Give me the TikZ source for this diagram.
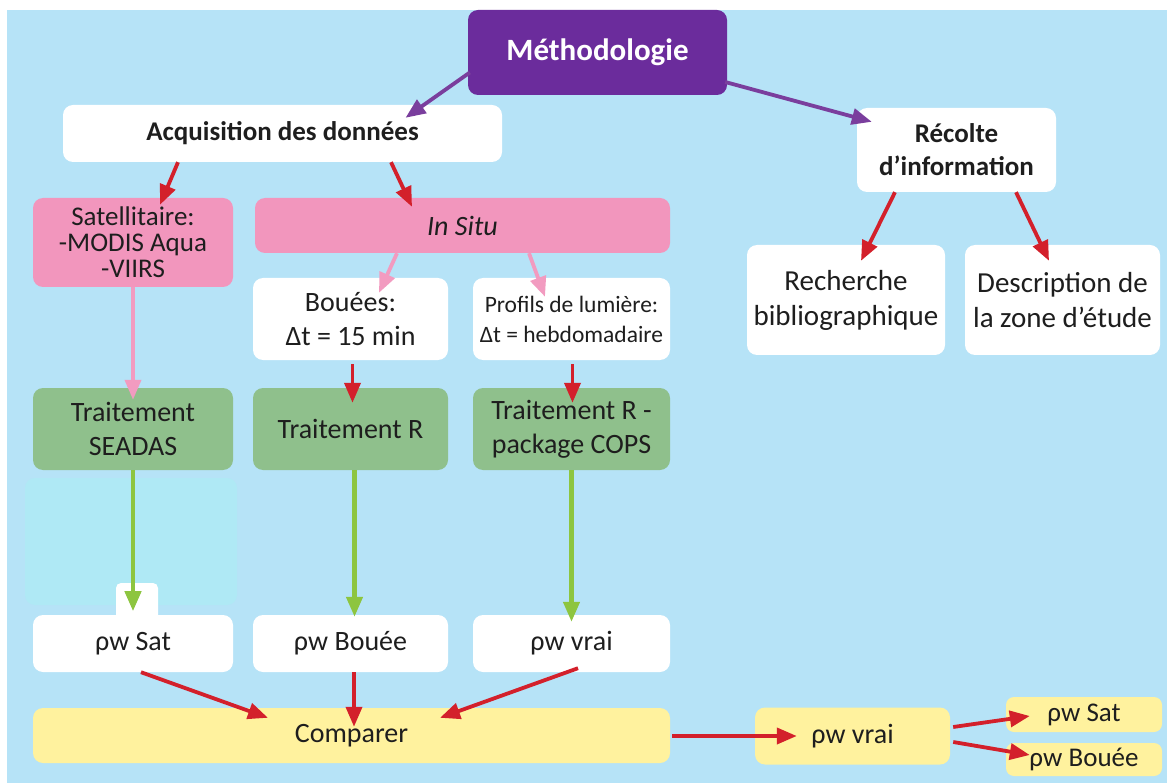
\documentclass[tikz,border=0pt]{standalone}
\usepackage{fontspec}
\setmainfont{Carlito}
\usetikzlibrary{arrows.meta,calc}
\definecolor{bgblue}{HTML}{B6E3F7}
\definecolor{purpbox}{HTML}{6B2C9C}
\definecolor{pinkbox}{HTML}{F296BD}
\definecolor{greenbox}{HTML}{8FC08C}
\definecolor{yellowbox}{HTML}{FFF29E}
\definecolor{cyanpanel}{HTML}{AFE9F5}
\definecolor{arrred}{HTML}{D3202B}
\definecolor{arrpink}{HTML}{F29BC0}
\definecolor{arrgreen}{HTML}{8DC540}
\definecolor{arrpurple}{HTML}{7A3E9D}
\definecolor{txt}{HTML}{1E1E1E}
\begin{document}
\begin{tikzpicture}[x=1pt,y=1pt,
  box/.style={rounded corners=10pt, inner sep=0pt, align=center, text=txt,
    font=\fontsize{28}{34}\selectfont},
  whitebox/.style={box, fill=white},
  pinkb/.style={box, fill=pinkbox},
  greenb/.style={box, fill=greenbox},
  yellowb/.style={box, fill=yellowbox},
  arr/.style={-{Triangle[length=20pt,width=16pt]}, line width=3.8pt},
  redarr/.style={arr, draw=arrred, color=arrred},
  pinkarr/.style={arr, draw=arrpink, color=arrpink},
  greenarr/.style={arr, draw=arrgreen, color=arrgreen, line width=4.3pt},
  purparr/.style={arr, draw=arrpurple, color=arrpurple}]
\useasboundingbox (0,0) rectangle (1172,-783);
\fill[white] (0,0) rectangle (1172,-783);
\fill[bgblue] (7,-10) rectangle (1167,-783);
% light cyan panel and tab
\node[box, fill=cyanpanel, minimum width=212pt, minimum height=127pt] (panel) at (131,-541.5) {};
\node[box, fill=white, rounded corners=5pt, minimum width=42pt, minimum height=40pt] (tab) at (137,-603) {};
% boxes
\node[box, fill=purpbox, text=white, minimum width=259pt, minimum height=85pt,
  font=\fontsize{31}{36}\selectfont\bfseries] (meth) at (597.5,-52.5) {Méthodologie};
\node[whitebox, minimum width=439pt, minimum height=57pt, font=\fontsize{27}{32}\selectfont\bfseries] (acq) at (282.5,-133.5) {Acquisition des données};
\node[whitebox, minimum width=199pt, minimum height=84pt, font=\fontsize{27}{33}\selectfont\bfseries] (rec) at (956.5,-150) {Récolte\\d’information};
\node[pinkb, minimum width=200pt, minimum height=89pt, font=\fontsize{27}{26}\selectfont] (sat) at (133,-242.5) {Satellitaire:\\-MODIS Aqua\\-VIIRS};
\node[pinkb, minimum width=415pt, minimum height=55pt, font=\fontsize{28}{34}\selectfont\itshape] (insitu) at (462.5,-225.5) {In Situ};
\node[whitebox, minimum width=195pt, minimum height=82pt] (bou) at (350.5,-319) {Bouées:\\Δt = 15 min};
\node[whitebox, minimum width=197pt, minimum height=82pt, font=\fontsize{23.5}{30}\selectfont] (prof) at (571.5,-319) {Profils de lumière:\\Δt = hebdomadaire};
\node[whitebox, minimum width=198pt, minimum height=110pt, font=\fontsize{29}{35}\selectfont] (rech) at (846,-300) {Recherche\\bibliographique};
\node[whitebox, minimum width=195pt, minimum height=110pt, font=\fontsize{29}{35}\selectfont] (desc) at (1062.5,-300) {Description de\\la zone d’étude};
\node[greenb, minimum width=200pt, minimum height=82pt] (seadas) at (133,-429) {Traitement\\SEADAS};
\node[greenb, minimum width=195pt, minimum height=82pt] (trR) at (350.5,-429) {Traitement R};
\node[greenb, minimum width=197pt, minimum height=82pt] (cops) at (571.5,-429) {Traitement R -\\package COPS};
\node[whitebox, minimum width=200pt, minimum height=57pt] (psat) at (133,-643.5) {ρw Sat};
\node[whitebox, minimum width=195pt, minimum height=57pt] (pbou) at (350.5,-643.5) {ρw Bouée};
\node[whitebox, minimum width=197pt, minimum height=57pt] (pvrai) at (571.5,-643.5) {ρw vrai};
\node[yellowb, minimum width=637pt, minimum height=55pt] (comp) at (351.5,-735.5) {Comparer};
\node[yellowb, minimum width=195pt, minimum height=57pt] (pvrai2) at (852.5,-736) {ρw vrai};
\node[yellowb, rounded corners=8pt, minimum width=156pt, minimum height=35pt, font=\fontsize{27}{30}\selectfont] (psat2) at (1084,-714.5) {ρw Sat};
\node[yellowb, rounded corners=8pt, minimum width=156pt, minimum height=33pt, font=\fontsize{27}{30}\selectfont] (pbou2) at (1084,-759.5) {ρw Bouée};
% purple arrows
\draw[purparr] ($(meth.west)+(2,-20)$) -- ($(acq.north)+(123,-13)$);
\draw[purparr] ($(meth.east)+(-2,-29.5)$) -- ($(rec.north west)+(15,-14)$);
% red arrows top
\draw[redarr] ($(acq.south)+(-104.5,0)$) -- ($(sat.north)+(27,-7)$);
\draw[redarr] ($(acq.south)+(108.5,0)$) -- ($(insitu.north)+(-50.5,-9)$);
\draw[redarr] ($(rec.south)+(-61.5,0)$) -- ($(rech.north)+(15,-16)$);
\draw[redarr] ($(rec.south)+(59.5,0)$) -- ($(desc.north)+(-13.5,-16)$);
% pink arrows
\draw[pinkarr] ($(insitu.south)+(-65.5,0)$) -- ($(bou.north)+(28.5,-15)$);
\draw[pinkarr] ($(insitu.south)+(66.5,0)$) -- ($(prof.north)+(-26.5,-19)$);
\draw[pinkarr] (sat.south) -- ($(seadas.north)+(0,-12)$);
% red short arrows
\draw[redarr] ($(bou.south)+(2,-4)$) -- ($(trR.north)+(2,-15)$);
\draw[redarr] ($(prof.south)+(1,-4)$) -- ($(cops.north)+(1,-15)$);
% green arrows
\draw[greenarr] (seadas.south) -- ($(tab.south)+(-4,12)$);
\draw[greenarr] ($(trR.south)+(4,0)$) -- ($(pbou.north)+(4,-2)$);
\draw[greenarr] (cops.south) -- ($(pvrai.north)+(0,-7)$);
% bottom red arrows
\draw[redarr] ($(psat.south)+(8,0)$) -- ($(comp.north)+(-83.5,-10)$);
\draw[redarr] ($(pbou.south)+(3.5,0)$) -- ($(comp.north)+(2.5,-19)$);
\draw[redarr] ($(pvrai.south)+(6.5,4)$) -- ($(comp.north)+(88.5,-10)$);
\draw[redarr] ($(comp.east)+(2,-0.5)$) -- ($(pvrai2.west)+(42,0)$);
\draw[redarr] ($(pvrai2.east)+(3,9)$) -- ($(psat2.west)+(24,-1.5)$);
\draw[redarr] ($(pvrai2.east)+(3,-6)$) -- ($(pbou2.west)+(24,4.5)$);
\end{tikzpicture}
\end{document}
